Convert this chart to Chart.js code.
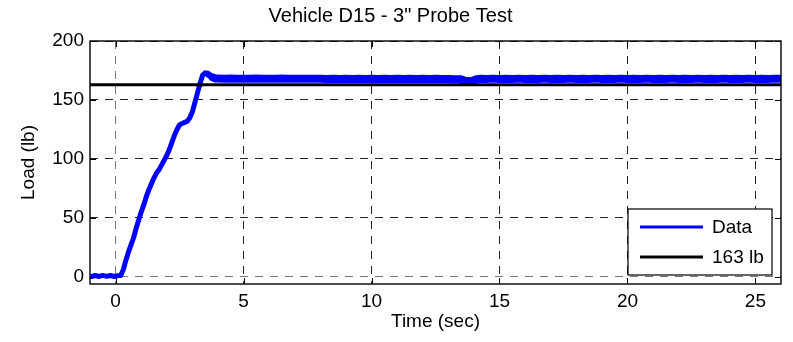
<!DOCTYPE html>
<html>
<head>
<meta charset="utf-8">
<script src="https://cdn.jsdelivr.net/npm/chart.js@4/dist/chart.umd.min.js"></script>
<style>
html,body{margin:0;padding:0;background:#fff;}
#wrap{width:793px;height:342px;}
</style>
</head>
<body>
<div id="wrap"><canvas id="myChart" width="793" height="342"></canvas></div>
<script>
// values
const time_s = [
    -0.95, -0.8, -0.65, -0.5, -0.35, -0.2, -0.05, 0.1, 0.2,
    0.3, 0.4, 0.5, 0.6, 0.7, 0.8, 0.9, 1.0, 1.1, 1.2, 1.3, 1.4, 1.5, 1.6, 1.7, 1.8, 1.9,
    2.0, 2.1, 2.2, 2.3, 2.4, 2.5, 2.6, 2.7, 2.8, 2.9, 3.0, 3.1, 3.2, 3.3, 3.4, 3.5, 3.6, 3.7, 3.8, 3.9,
    4.0, 4.25, 4.5, 4.75, 5.0, 5.25, 5.5, 5.75, 6.0, 6.25, 6.5, 6.75, 7.0, 7.25, 7.5, 7.75,
    8.0, 8.25, 8.5, 8.75, 9.0, 9.25, 9.5, 9.75, 10.0, 10.25, 10.5, 10.75, 11.0, 11.25, 11.5, 11.75,
    12.0, 12.25, 12.5, 12.75, 13.0, 13.25, 13.5,
    13.65, 13.8, 13.95, 14.1,
    14.25, 14.5, 14.75, 15.0, 15.25, 15.5, 15.75, 16.0, 16.25, 16.5, 16.75, 17.0,
    17.25, 17.5, 17.75, 18.0, 18.25, 18.5, 18.75, 19.0, 19.25, 19.5, 19.75, 20.0,
    20.25, 20.5, 20.75, 21.0, 21.25, 21.5, 21.75, 22.0, 22.25, 22.5, 22.75, 23.0,
    23.25, 23.5, 23.75, 24.0, 24.25, 24.5, 24.75, 25.0, 25.25, 25.5, 25.75, 26.0
];
const load_lb = [
    0.3, 1.2, 0.4, 1.3, 0.5, 1.2, 0.4, 1.1, 1.2,
    6, 14, 21, 27, 33, 41, 48, 55, 61, 68, 74, 79, 84, 88, 91, 95, 99,
    103, 108, 114, 120, 125, 129, 130, 131, 132, 135, 140, 148, 156, 164, 171, 173, 172, 170.5, 169, 168.3,
    168.3, 168, 168.2, 167.9, 168.1, 167.9, 168.2, 167.9, 168.1, 167.9, 168.2, 167.9, 168.1, 167.9, 168.1, 167.9,
    168, 167.8, 168, 167.8, 168, 167.8, 168, 167.8, 168, 167.8, 168, 167.8, 167.9, 167.7, 167.9, 167.7,
    167.9, 167.7, 167.9, 167.7, 167.8, 167.6, 167.5,
    166.3, 166, 166.4, 167.6,
    168, 167.8, 168.1, 167.8, 168, 167.8, 168.1, 167.8, 168, 167.8, 168.1, 167.8,
    168, 167.8, 168.1, 167.8, 168, 167.8, 168.1, 167.8, 168, 167.8, 168.1, 167.8,
    168, 167.8, 168.1, 167.8, 168, 167.8, 168.1, 167.8, 168, 167.8, 168.1, 167.8,
    168, 167.8, 168.1, 167.8, 168, 167.8, 168.1, 167.8, 168, 167.8, 168.1, 168
];
const ref_time = [-1, 26];
const ref_load = [163, 163];
const series_names = ['Data', '163 lb'];
const series_colors = ['#0000ff', '#000000'];
const x_ticks = [0, 5, 10, 15, 20, 25];
const y_ticks = [0, 50, 100, 150, 200];

Chart.defaults.font.family = "'Liberation Sans', Arial, sans-serif";
Chart.defaults.color = '#000';

function to_points(xs, ys){
    const pts = [];
    for (let i = 0; i < xs.length; i++){
        pts.push({x: xs[i], y: ys[i]});
    }
    return pts;
}

// the noisy steady part reads as a thicker band
function band_width(c){
    const t = c.p0.parsed.x;
    if (t >= 3.8) return 8;
    if (t >= 3.6) return 6.5;
    return 5;
}

// matlab style box, inner ticks and legend
const matlab_box = {
    id: 'matlab_box',
    afterDatasetsDraw(chart){
        const ctx = chart.ctx;
        const a = chart.chartArea;
        const xs = chart.scales.x;
        const ys = chart.scales.y;
        ctx.save();
        ctx.setLineDash([]);
        ctx.strokeStyle = '#000';
        ctx.lineWidth = 1;
        ctx.beginPath();
        x_ticks.forEach(v => {
            const px = Math.round(xs.getPixelForValue(v)) + 0.5;
            ctx.moveTo(px, a.bottom); ctx.lineTo(px, a.bottom - 6);
            ctx.moveTo(px, a.top); ctx.lineTo(px, a.top + 6);
        });
        y_ticks.forEach(v => {
            const py = Math.round(ys.getPixelForValue(v)) + 0.5;
            ctx.moveTo(a.left, py); ctx.lineTo(a.left + 6, py);
            ctx.moveTo(a.right, py); ctx.lineTo(a.right - 6, py);
        });
        ctx.stroke();
        ctx.lineWidth = 1.4;
        ctx.strokeRect(a.left, a.top, a.right - a.left, a.bottom - a.top);

        // legend
        const bw = 144, bh = 66;
        const bx = a.right - 9 - bw;
        const by = a.bottom - 9 - bh;
        ctx.fillStyle = '#fff';
        ctx.fillRect(bx, by, bw, bh);
        ctx.lineWidth = 1.2;
        ctx.strokeRect(bx, by, bw, bh);
        ctx.font = "19px 'Liberation Sans', Arial, sans-serif";
        ctx.textBaseline = 'middle';
        chart.data.datasets.forEach((ds, i) => {
            const ly = by + 18 + i * 30;
            ctx.strokeStyle = ds.borderColor;
            ctx.lineWidth = 3;
            ctx.beginPath();
            ctx.moveTo(bx + 12, ly);
            ctx.lineTo(bx + 75, ly);
            ctx.stroke();
            ctx.fillStyle = '#000';
            ctx.fillText(ds.label, bx + 84, ly + 1);
        });
        ctx.restore();
    }
};

const ctx = document.getElementById('myChart').getContext('2d');
const myChart = new Chart(ctx, {
    type: 'line',
    data: {
        datasets: [
            {
                label: series_names[0],
                data: to_points(time_s, load_lb),
                borderColor: series_colors[0],
                backgroundColor: series_colors[0],
                borderWidth: 5,
                borderJoinStyle: 'round',
                borderCapStyle: 'round',
                segment: {borderWidth: band_width},
                pointRadius: 0,
                tension: 0,
                order: 1
            },
            {
                label: series_names[1],
                data: to_points(ref_time, ref_load),
                borderColor: series_colors[1],
                backgroundColor: series_colors[1],
                borderWidth: 3,
                pointRadius: 0,
                tension: 0,
                order: 0
            }
        ]
    },
    options: {
        responsive: false,
        animation: false,
        layout: {
            padding: {left: 0, right: 12, top: 0, bottom: 0}
        },
        scales: {
            x: {
                type: 'linear',
                min: -1,
                max: 26,
                title: {
                    display: true,
                    text: 'Time (sec)',
                    font: {size: 19},
                    padding: {top: 9, bottom: 9}
                },
                ticks: {
                    stepSize: 5,
                    includeBounds: false,
                    maxRotation: 0,
                    padding: 6,
                    font: {size: 19}
                },
                grid: {
                    drawTicks: false,
                    color: c => (c.tick && c.tick.value === 0) ? '#777' : '#222',
                    lineWidth: 1
                },
                border: {display: false, dash: [8, 7]},
                afterFit: s => { s.height = 58; }
            },
            y: {
                type: 'linear',
                min: -6,
                max: 200,
                title: {
                    display: true,
                    text: 'Load (lb)',
                    font: {size: 19},
                    padding: {top: 17, bottom: 17}
                },
                ticks: {
                    stepSize: 50,
                    includeBounds: false,
                    padding: 6,
                    font: {size: 19}
                },
                grid: {
                    drawTicks: false,
                    color: c => (c.tick && c.tick.value === 0) ? '#777' : '#222',
                    lineWidth: 1
                },
                border: {display: false, dash: [8, 7]},
                afterFit: s => { s.width = 90; }
            }
        },
        plugins: {
            legend: {display: false},
            tooltip: {enabled: false},
            title: {
                display: true,
                text: 'Vehicle D15 - 3" Probe Test',
                font: {size: 20, weight: 'normal'},
                padding: {top: 4, bottom: 13}
            }
        }
    },
    plugins: [matlab_box]
});
</script>
</body>
</html>
